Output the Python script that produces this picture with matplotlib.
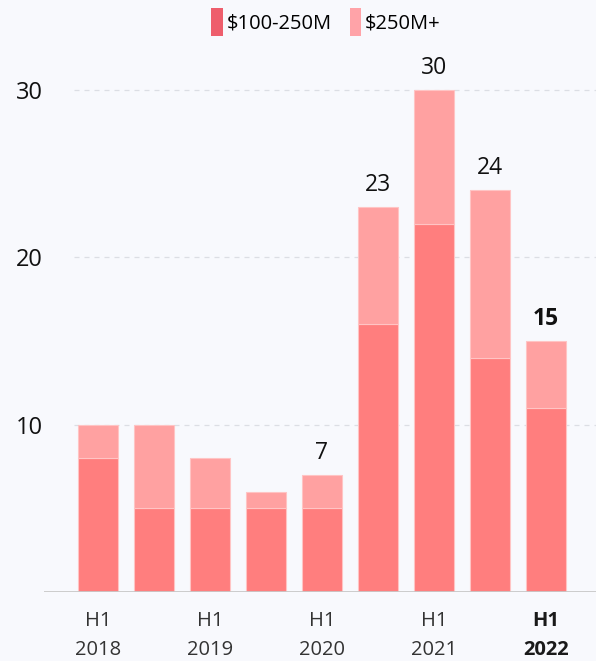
import matplotlib
matplotlib.use("Agg")
import matplotlib.pyplot as plt
from matplotlib.patches import Patch
from matplotlib import font_manager

periods = ["H1 2018", "H2 2018", "H1 2019", "H2 2019", "H1 2020",
           "H2 2020", "H1 2021", "H2 2021", "H1 2022"]
mid_deals = [8, 5, 5, 5, 5, 16, 22, 14, 11]      # $100-250M
large_deals = [2, 5, 3, 1, 2, 7, 8, 10, 4]       # $250M+
label_idx = [4, 5, 6, 7, 8]
tick_idx = [0, 2, 4, 6, 8]
tick_labels = ["H1\n2018", "H1\n2019", "H1\n2020", "H1\n2021", "H1\n2022"]
series_names = ["$100-250M", "$250M+"]

bg = "#F8F9FD"
c_mid = "#FF7E7E"
c_large = "#FFA1A1"
c_mid_leg = "#EE5E6C"
c_large_leg = "#FFA3A8"

plt.rcParams['font.family'] = ['Open Sans', 'Noto Sans', 'DejaVu Sans']

fig = plt.figure(figsize=(5.96, 6.61), dpi=100, facecolor=bg)
ax = fig.add_axes([44/596, (661-592)/661, 1-44/596, (592-50)/661])
ax.set_facecolor(bg)

x = list(range(len(periods)))
w = 0.72
ax.bar(x, mid_deals, width=w, color=c_mid, edgecolor="#FFC4C4", linewidth=0.8, zorder=3)
ax.bar(x, large_deals, bottom=mid_deals, width=w, color=c_large, edgecolor="#FFC4C4",
       linewidth=0.8, zorder=3)

xmin, xmax = -(98-44)/56, 8 + (596-546)/56
ax.set_xlim(xmin, xmax)
ymax = (592-50) / (502/30)
ax.set_ylim(0, ymax)

for yv in [0, 10, 20, 30]:
    ax.hlines(yv, -0.42, xmax, colors="#DCDEE4", linestyles=(0, (4, 4)), linewidth=0.9, zorder=1)

for s in ax.spines.values():
    s.set_visible(False)
ax.axhline(0, color="#C8C8C8", linewidth=2, zorder=4)

ax.set_yticks([10, 20, 30])
ax.set_yticklabels(["10", "20", "30"], fontsize=17, color="#111111")
ax.tick_params(axis='y', length=0, pad=1)
ax.set_xticks(tick_idx)
ax.set_xticklabels(tick_labels, fontsize=14.5, color="#333333", linespacing=1.55)
ax.tick_params(axis='x', length=0, pad=14)
xt = ax.get_xticklabels()
xt[-1].set_fontweight("bold")
xt[-1].set_color("#1a1a1a")

for i in label_idx:
    tot = mid_deals[i] + large_deals[i]
    ax.text(i, tot + 0.6, str(tot), ha="center", va="bottom", fontsize=16.5,
            color="#111111", fontweight="bold" if i == 8 else "normal", zorder=5)

handles = [Patch(facecolor=c_mid_leg, edgecolor="none"),
           Patch(facecolor=c_large_leg, edgecolor="none")]
fig.legend(handles, series_names, loc="center", bbox_to_anchor=(326/596, 1-22/661),
           ncol=2, frameon=False, fontsize=14.5, handlelength=0.55, handleheight=1.7,
           handletextpad=0.2, columnspacing=0.9)

fig.savefig("out.png", dpi=100, facecolor=bg)
